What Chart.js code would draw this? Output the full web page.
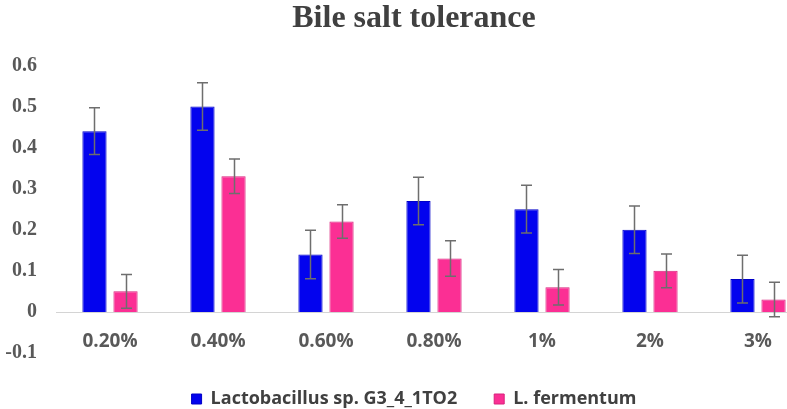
<!DOCTYPE html>
<html>
<head>
<meta charset="utf-8">
<script src="https://cdn.jsdelivr.net/npm/chart.js@4/dist/chart.umd.min.js"></script>
<style>
  html, body { margin: 0; padding: 0; background: #fff; overflow: hidden; }
  #wrap { width: 787px; height: 409px; }
</style>
</head>
<body>
<div id="wrap"><canvas id="bileChart"></canvas></div>
<script>
// Bile salt tolerance
const concentracoes = ['0.20%', '0.40%', '0.60%', '0.80%', '1%', '2%', '3%'];
const lactobacillus = [0.44, 0.50, 0.14, 0.27, 0.25, 0.20, 0.08];
const lactobacillusErro = [0.057, 0.058, 0.059, 0.058, 0.058, 0.058, 0.058];
const fermentum = [0.05, 0.33, 0.22, 0.13, 0.06, 0.10, 0.03];
const fermentumErro = [0.041, 0.042, 0.041, 0.043, 0.043, 0.041, 0.042];
const yTicks = [-0.1, 0, 0.1, 0.2, 0.3, 0.4, 0.5, 0.6];

const erros = [lactobacillusErro, fermentumErro];

// linha do zero (eixo horizontal), estendida meia categoria para cada lado
const linhaZero = {
    id: 'linhaZero',
    afterLayout(chart) {
        // deixa os rótulos do eixo y aparecerem à esquerda do padding
        chart.scales.y.left = 0;
    },
    beforeDatasetsDraw(chart) {
        const x = chart.scales.x, y = chart.scales.y, ctx = chart.ctx;
        const py = Math.round(y.getPixelForValue(0)) + 0.5;
        ctx.save();
        ctx.strokeStyle = '#d4d4d4';
        ctx.lineWidth = 1;
        ctx.beginPath();
        ctx.moveTo(x.getPixelForValue(-0.5), py);
        ctx.lineTo(x.getPixelForValue(concentracoes.length - 0.5), py);
        ctx.stroke();
        ctx.restore();
    }
};

// barras de erro
const barrasErro = {
    id: 'barrasErro',
    afterDatasetsDraw(chart) {
        const y = chart.scales.y, ctx = chart.ctx;
        ctx.save();
        ctx.strokeStyle = '#6e6e6e';
        ctx.lineWidth = 1.5;
        chart.data.datasets.forEach(function(ds, i) {
            const meta = chart.getDatasetMeta(i);
            meta.data.forEach(function(bar, j) {
                const v = ds.data[j], e = erros[i][j];
                const top = y.getPixelForValue(v + e);
                const bottom = y.getPixelForValue(v - e);
                const cx = Math.round(bar.x) + 0.5;
                ctx.beginPath();
                ctx.moveTo(cx, top);
                ctx.lineTo(cx, bottom);
                ctx.moveTo(cx - 5.5, top);
                ctx.lineTo(cx + 5.5, top);
                ctx.moveTo(cx - 5.5, bottom);
                ctx.lineTo(cx + 5.5, bottom);
                ctx.stroke();
            });
        });
        ctx.restore();
    }
};

const ctxBile = document.getElementById('bileChart').getContext('2d');
const bileChart = new Chart(ctxBile, {
    type: 'bar',
    data: {
        labels: concentracoes,
        datasets: [{
            label: 'Lactobacillus sp. G3_4_1TO2',
            data: lactobacillus,
            backgroundColor: '#0303ee',
            borderColor: '#0000c8',
            borderWidth: 1,
            barPercentage: 0.78,
            categoryPercentage: 0.575,
            clip: false
        }, {
            label: 'L. fermentum',
            data: fermentum,
            backgroundColor: '#fb2f94',
            borderColor: '#d8227c',
            borderWidth: 1,
            barPercentage: 0.78,
            categoryPercentage: 0.575,
            clip: false
        }]
    },
    options: {
        responsive: true,
        maintainAspectRatio: false,
        animation: false,
        layout: {
            padding: { left: 41, right: 0, top: 0, bottom: 0 }
        },
        scales: {
            x: {
                position: { y: 0 },
                offset: false,
                grid: { display: false, drawTicks: false },
                border: { display: false },
                ticks: {
                    color: '#595959',
                    padding: 18,
                    font: { family: 'Open Sans', size: 19, weight: 'bold' }
                },
                afterFit: function(scale) {
                    scale.height = 0;
                    scale.paddingLeft = 0;
                    scale.paddingRight = 29; // meia categoria à direita, como no original cortado
                }
            },
            y: {
                min: -0.1,
                max: 0.6,
                grid: { display: false, drawTicks: false },
                border: { display: false },
                afterBuildTicks: function(scale) {
                    scale.ticks = yTicks.map(function(v) { return { value: v }; });
                },
                afterFit: function(scale) {
                    scale.width = 69;
                    scale.paddingTop = 0;
                    scale.paddingBottom = 0;
                },
                ticks: {
                    color: '#595959',
                    padding: 73,
                    font: { family: 'Liberation Serif', size: 20, weight: 'bold' },
                    callback: function(v) { return Math.round(v * 10) / 10; }
                }
            }
        },
        plugins: {
            title: {
                display: true,
                text: 'Bile salt tolerance',
                color: '#404040',
                font: { family: 'Liberation Serif', size: 32, weight: 'bold' },
                padding: { top: 0, bottom: 27 }
            },
            legend: {
                position: 'bottom',
                maxHeight: 56,
                labels: {
                    color: '#404040',
                    boxWidth: 10,
                    boxHeight: 10,
                    padding: 37,
                    font: { family: 'Open Sans', size: 18, weight: 'bold' }
                }
            },
            tooltip: { enabled: false }
        }
    },
    plugins: [linhaZero, barrasErro]
});
</script>
</body>
</html>
